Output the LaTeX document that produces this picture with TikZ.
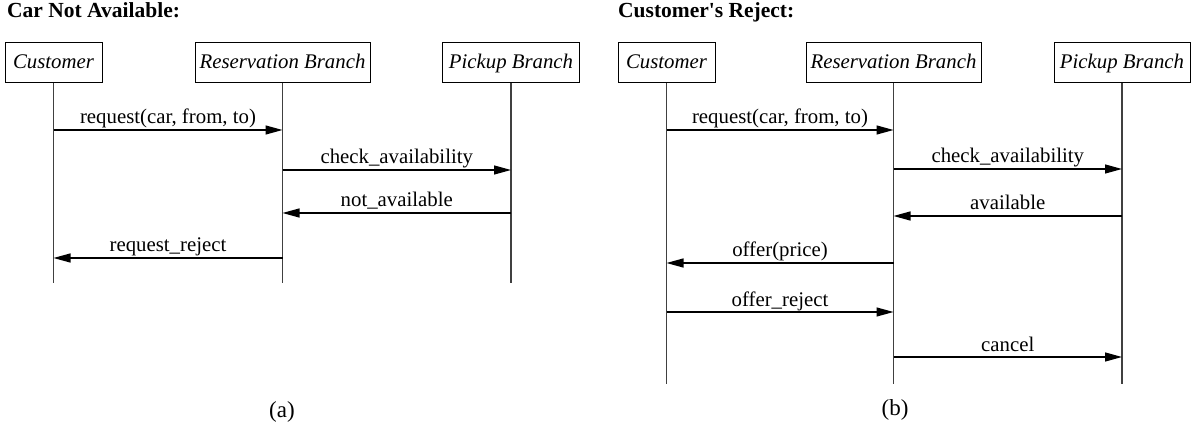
\documentclass[tikz,border=0pt]{standalone}
\usepackage{fontspec}
\setmainfont{Liberation Serif}
\usetikzlibrary{arrows.meta}
\begin{document}
\begin{tikzpicture}[x=1pt,y=-1pt,
  actor/.style={draw=black, line width=1pt, minimum height=40pt, inner sep=0pt,
    text height=15pt, text depth=3pt, font=\fontsize{20.8}{24}\selectfont\itshape},
  lifeline/.style={draw=black!75, line width=1.2pt},
  msg/.style={draw=black, line width=1.2pt, -{Triangle[length=17pt,width=9pt]}},
  lbl/.style={anchor=base, yshift=6pt, inner sep=0pt, font=\fontsize{20.8}{24}\selectfont},
  ttl/.style={anchor=base west, inner sep=0pt, font=\fontsize{21.5}{24}\selectfont\bfseries},
  subcap/.style={anchor=base, inner sep=0pt, font=\fontsize{23}{26}\selectfont}]
\useasboundingbox (0,0) rectangle (1194,430);

% ---------- (a) ----------
\node[ttl] (ta) at (7,18) {Car Not Available:};
\node[actor, minimum width=97pt] (ac) at (53.5,63) {Customer};
\node[actor, minimum width=175pt] (ar) at (282.5,63) {Reservation Branch};
\node[actor, minimum width=137pt] (ap) at (511,63) {Pickup Branch};
\coordinate (acE) at (ac.south |- 0,283);
\coordinate (arE) at (ar.south |- 0,283);
\coordinate (apE) at (ap.south |- 0,283);
\draw[lifeline] (ac.south) -- (acE);
\draw[lifeline] (ar.south) -- (arE);
\draw[lifeline] (ap.south) -- (apE);
\draw[msg] (ac.south |- 0,130) -- node[lbl] {request(car, from, to)} (ar.south |- 0,130);
\draw[msg] (ar.south |- 0,170) -- node[lbl] {check\_availability} (ap.south |- 0,170);
\draw[msg] (ap.south |- 0,213) -- node[lbl] {not\_available} (ar.south |- 0,213);
\draw[msg] (ar.south |- 0,258) -- node[lbl] {request\_reject} (ac.south |- 0,258);
\node[subcap] (capa) at (282,417) {(a)};

% ---------- (b) ----------
\node[ttl] (tb) at (618,18) {Customer\textquotesingle s Reject:};
\node[actor, minimum width=97pt] (bc) at (666.5,63) {Customer};
\node[actor, minimum width=175pt] (br) at (893.5,63) {Reservation Branch};
\node[actor, minimum width=136pt] (bp) at (1122,63) {Pickup Branch};
\coordinate (bcE) at (bc.south |- 0,384);
\coordinate (brE) at (br.south |- 0,384);
\coordinate (bpE) at (bp.south |- 0,384);
\draw[lifeline] (bc.south) -- (bcE);
\draw[lifeline] (br.south) -- (brE);
\draw[lifeline] (bp.south) -- (bpE);
\draw[msg] (bc.south |- 0,130) -- node[lbl] {request(car, from, to)} (br.south |- 0,130);
\draw[msg] (br.south |- 0,169) -- node[lbl] {check\_availability} (bp.south |- 0,169);
\draw[msg] (bp.south |- 0,216) -- node[lbl] {available} (br.south |- 0,216);
\draw[msg] (br.south |- 0,263) -- node[lbl] {offer(price)} (bc.south |- 0,263);
\draw[msg] (bc.south |- 0,312) -- node[lbl] {offer\_reject} (br.south |- 0,312);
\draw[msg] (br.south |- 0,357) -- node[lbl] {cancel} (bp.south |- 0,357);
\node[subcap] (capb) at (895,415) {(b)};
\end{tikzpicture}
\end{document}
